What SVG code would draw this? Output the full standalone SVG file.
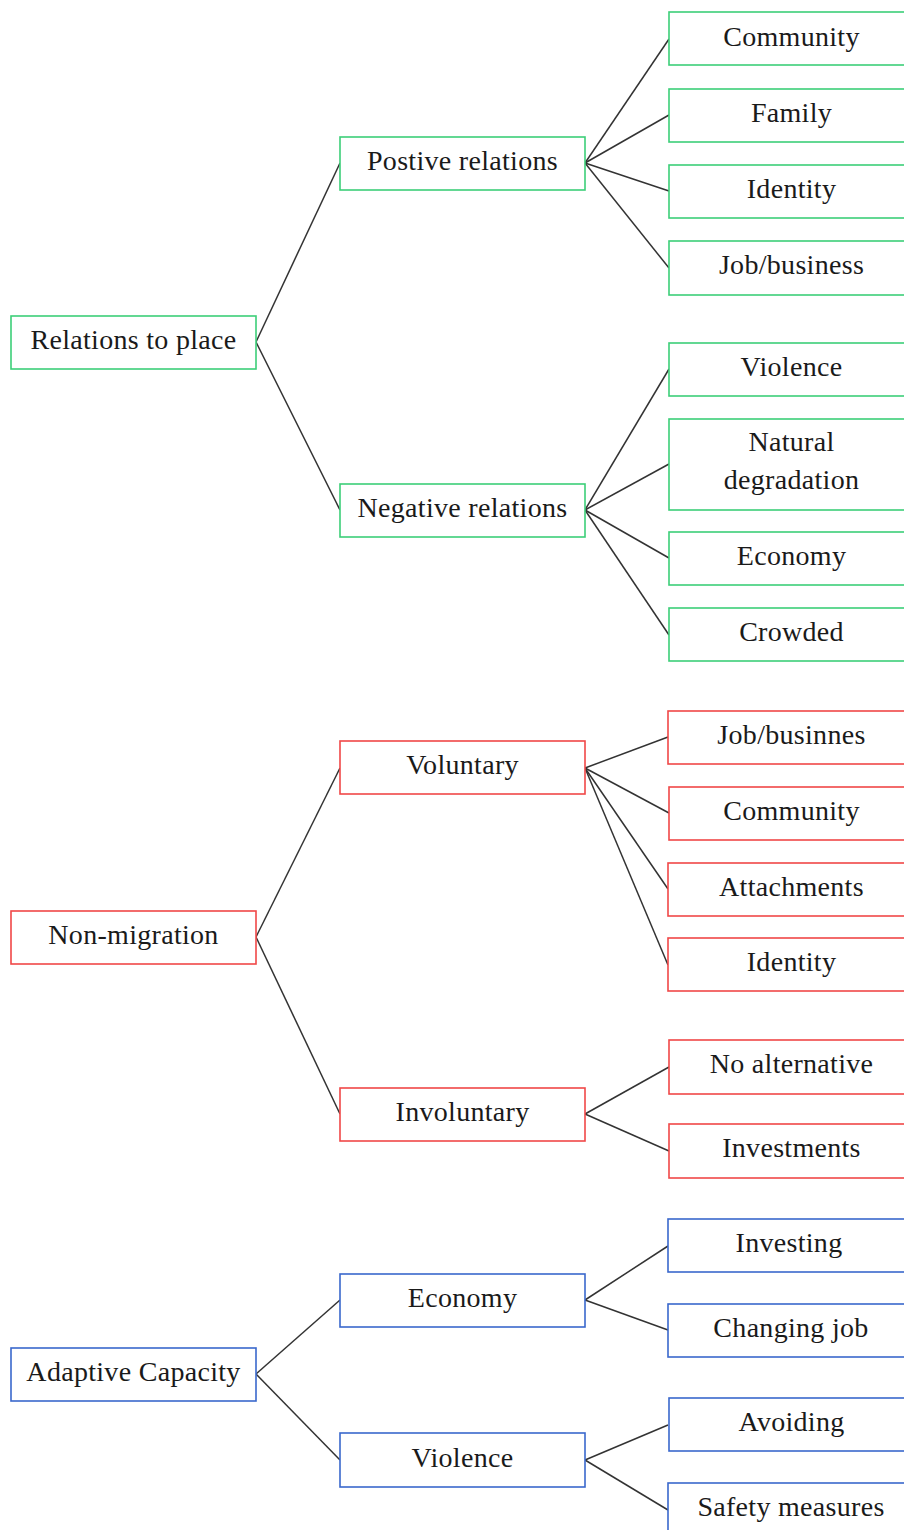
<svg xmlns="http://www.w3.org/2000/svg" width="904" height="1530" viewBox="0 0 904 1530">
<style>
rect{fill:#fff;stroke-width:1.6}
.g rect{stroke:#3ccf78}
.r rect{stroke:#f04848}
.b rect{stroke:#3a68cc}
text{font-family:"Liberation Serif","Times New Roman",serif;font-size:28px;letter-spacing:0.3px;fill:#1a1a1a;text-anchor:middle}
#connectors line{stroke:#333;stroke-width:1.5}
</style>
<rect x="0" y="0" width="904" height="1530" style="fill:#fff;stroke:none"/>
<g id="connectors">
<line x1="256" y1="342" x2="340" y2="163"/>
<line x1="256" y1="342" x2="340" y2="510"/>
<line x1="585" y1="163" x2="669" y2="39"/>
<line x1="585" y1="163" x2="669" y2="115"/>
<line x1="585" y1="163" x2="669" y2="191"/>
<line x1="585" y1="163" x2="669" y2="268"/>
<line x1="585" y1="510" x2="669" y2="369"/>
<line x1="585" y1="510" x2="669" y2="464"/>
<line x1="585" y1="510" x2="669" y2="558"/>
<line x1="585" y1="510" x2="669" y2="635"/>
<line x1="256" y1="937" x2="340" y2="768"/>
<line x1="256" y1="937" x2="340" y2="1114"/>
<line x1="585" y1="768" x2="668" y2="737"/>
<line x1="585" y1="768" x2="669" y2="813"/>
<line x1="585" y1="768" x2="668" y2="889"/>
<line x1="585" y1="768" x2="668" y2="965"/>
<line x1="585" y1="1114" x2="669" y2="1067"/>
<line x1="585" y1="1114" x2="669" y2="1151"/>
<line x1="256" y1="1374" x2="340" y2="1300"/>
<line x1="256" y1="1374" x2="340" y2="1460"/>
<line x1="585" y1="1300" x2="668" y2="1246"/>
<line x1="585" y1="1300" x2="668" y2="1330"/>
<line x1="585" y1="1460" x2="668" y2="1425"/>
<line x1="585" y1="1460" x2="668" y2="1510"/>
</g>
<g id="relations-to-place" class="g"><rect x="11" y="316" width="245" height="53"/><text x="133.5" y="349">Relations to place</text></g>
<g id="positive-relations" class="g"><rect x="340" y="137" width="245" height="53"/><text x="462.5" y="170">Postive relations</text></g>
<g id="negative-relations" class="g"><rect x="340" y="484" width="245" height="53"/><text x="462.5" y="517">Negative relations</text></g>
<g id="g-community" class="g"><rect x="669" y="12" width="245" height="53"/><text x="791.5" y="45.5">Community</text></g>
<g id="g-family" class="g"><rect x="669" y="89" width="245" height="53"/><text x="791.5" y="122">Family</text></g>
<g id="g-identity" class="g"><rect x="669" y="165" width="245" height="53"/><text x="791.5" y="198">Identity</text></g>
<g id="g-job" class="g"><rect x="669" y="241" width="245" height="54"/><text x="791.5" y="274">Job/business</text></g>
<g id="g-violence" class="g"><rect x="669" y="343" width="245" height="53"/><text x="791.5" y="376">Violence</text></g>
<g id="g-natural" class="g"><rect x="669" y="419" width="245" height="91"/><text x="791.5" y="451">Natural</text><text x="791.5" y="488.5">degradation</text></g>
<g id="g-economy" class="g"><rect x="669" y="532" width="245" height="53"/><text x="791.5" y="565">Economy</text></g>
<g id="g-crowded" class="g"><rect x="669" y="608" width="245" height="53"/><text x="791.5" y="641">Crowded</text></g>
<g id="non-migration" class="r"><rect x="11" y="911" width="245" height="53"/><text x="133.5" y="944">Non-migration</text></g>
<g id="voluntary" class="r"><rect x="340" y="741" width="245" height="53"/><text x="462.5" y="774">Voluntary</text></g>
<g id="involuntary" class="r"><rect x="340" y="1088" width="245" height="53"/><text x="462.5" y="1121">Involuntary</text></g>
<g id="r-job" class="r"><rect x="668" y="711" width="246" height="53"/><text x="791.5" y="743.5">Job/businnes</text></g>
<g id="r-community" class="r"><rect x="669" y="787" width="245" height="53"/><text x="791.5" y="819.5">Community</text></g>
<g id="r-attachments" class="r"><rect x="668" y="863" width="246" height="53"/><text x="791.5" y="895.5">Attachments</text></g>
<g id="r-identity" class="r"><rect x="668" y="938" width="246" height="53"/><text x="791.5" y="971">Identity</text></g>
<g id="r-noalt" class="r"><rect x="669" y="1040" width="245" height="54"/><text x="791.5" y="1073">No alternative</text></g>
<g id="r-investments" class="r"><rect x="669" y="1124" width="245" height="54"/><text x="791.5" y="1157">Investments</text></g>
<g id="adaptive-capacity" class="b"><rect x="11" y="1348" width="245" height="53"/><text x="133.5" y="1381">Adaptive Capacity</text></g>
<g id="economy" class="b"><rect x="340" y="1274" width="245" height="53"/><text x="462.5" y="1307">Economy</text></g>
<g id="violence" class="b"><rect x="340" y="1433" width="245" height="54"/><text x="462.5" y="1466.5">Violence</text></g>
<g id="b-investing" class="b"><rect x="668" y="1219" width="246" height="53"/><text x="789" y="1252">Investing</text></g>
<g id="b-changing" class="b"><rect x="668" y="1304" width="246" height="53"/><text x="791" y="1337">Changing job</text></g>
<g id="b-avoiding" class="b"><rect x="669" y="1398" width="245" height="53"/><text x="791.5" y="1431">Avoiding</text></g>
<g id="b-safety" class="b"><rect x="668" y="1483" width="246" height="60"/><text x="791" y="1516">Safety measures</text></g>
</svg>
